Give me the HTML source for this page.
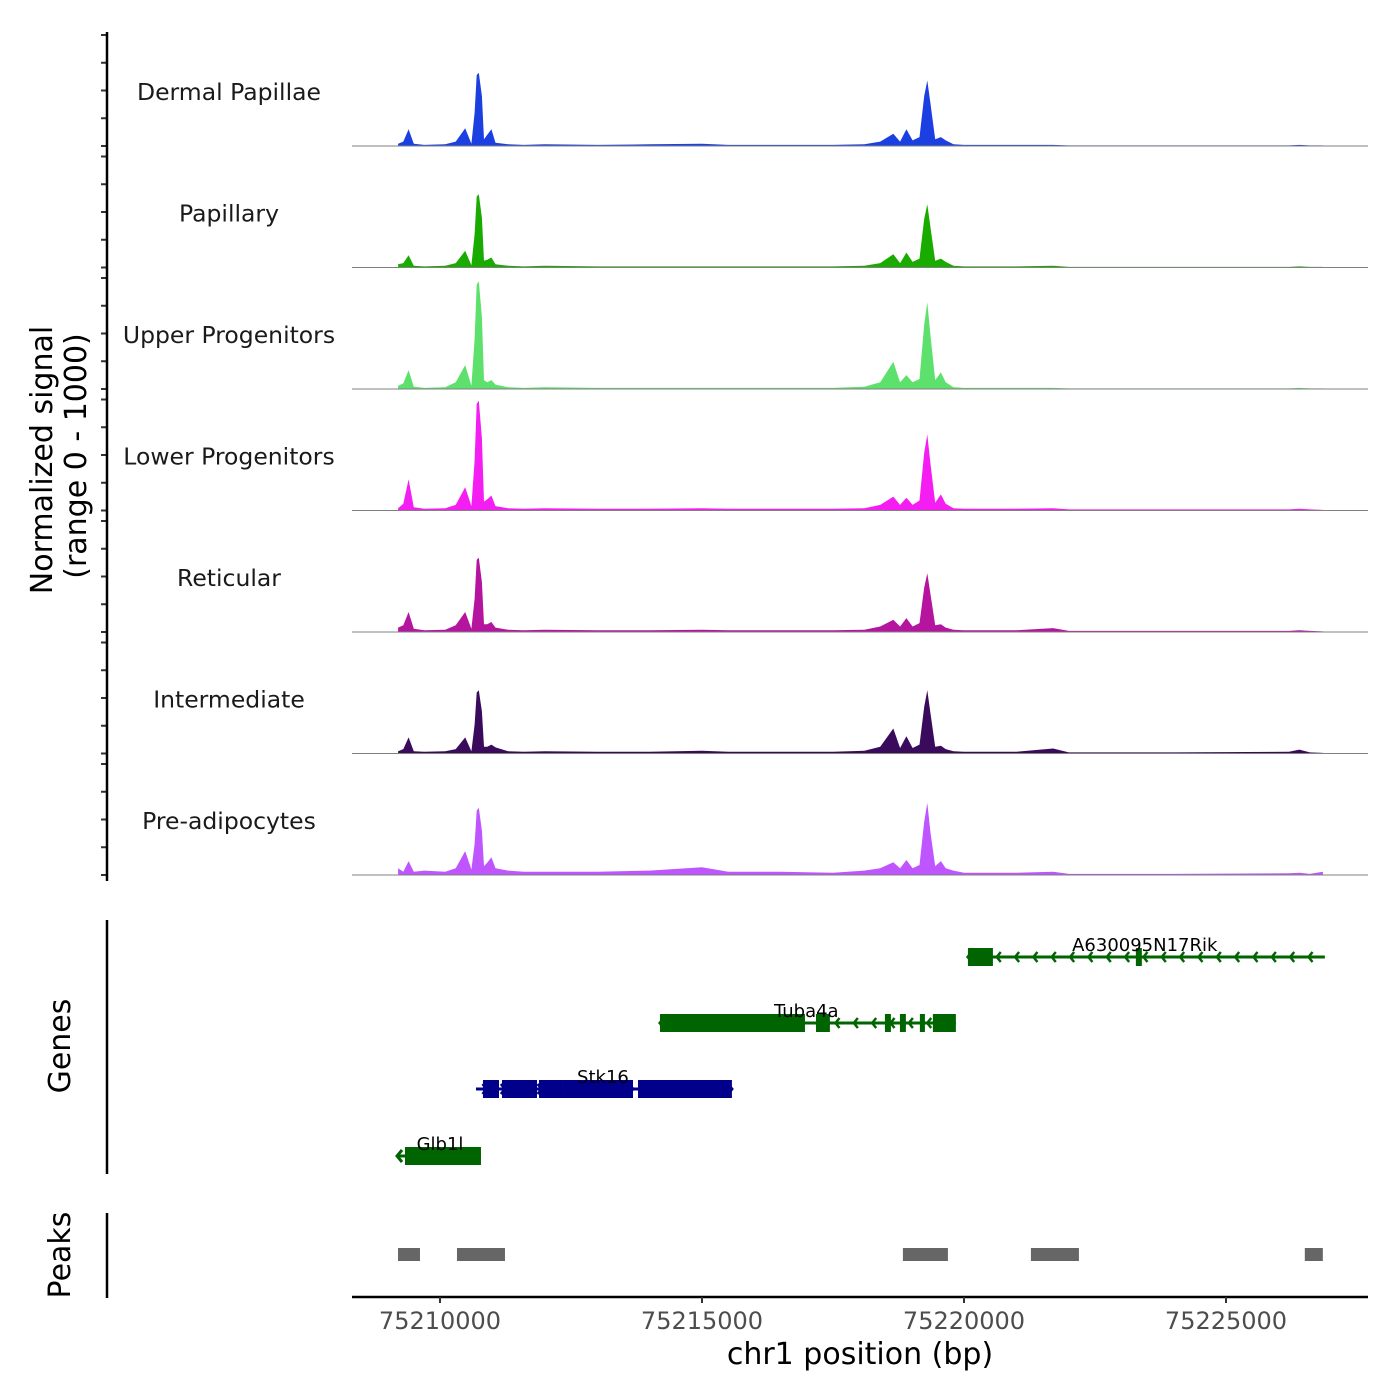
<!DOCTYPE html>
<html><head><meta charset="utf-8"><style>
html,body{margin:0;padding:0;background:#fff;}
svg{display:block;font-family:"DejaVu Sans","Liberation Sans",sans-serif;}
</style></head><body>
<svg id="chart" width="1400" height="1400" viewBox="0 0 1400 1400" xmlns="http://www.w3.org/2000/svg">
<rect width="1400" height="1400" fill="#fff"/>
<g id="tracks"></g><g id="genes"></g><g id="peaks"></g><g id="axes"></g>
</svg>
<script>
// ---- data ----
const positions = [75209200,75209300,75209400,75209500,75209700,75210100,75210300,75210480,75210600,75210660,75210700,75210740,75210800,75210840,75210900,75210980,75211060,75211300,75211600,75212000,75213000,75214000,75215000,75215500,75216500,75217500,75218100,75218400,75218650,75218780,75218900,75219020,75219150,75219240,75219300,75219360,75219450,75219560,75219650,75219800,75220000,75221000,75221700,75222000,75224000,75226200,75226400,75226600,75226850];
const trackNames = ["Dermal Papillae","Papillary","Upper Progenitors","Lower Progenitors","Reticular","Intermediate","Pre-adipocytes"];
const trackColors = ["#1b3fe0","#1aab00","#5de06c","#f51ef2","#b5149f","#3a0b5c","#bf55ff"];
const sigDP   = [20,40,150,20,10,15,40,160,20,300,640,660,450,60,100,150,30,15,10,15,10,15,20,10,10,10,15,40,110,40,150,50,80,450,590,380,60,80,50,15,10,10,10,5,5,5,10,5,5];
const sigPap  = [30,40,110,15,10,15,40,150,20,300,640,660,450,60,70,90,30,15,10,15,10,10,10,10,10,10,15,40,120,40,135,50,80,440,570,360,60,80,50,15,10,10,15,5,5,5,10,5,5];
const sigUpp  = [30,50,170,20,10,15,60,215,30,450,940,970,650,80,60,80,40,15,10,15,10,10,10,10,10,10,20,60,245,60,125,60,90,580,780,480,80,150,60,15,10,10,10,5,5,5,10,5,5];
const sigLow  = [20,60,280,30,15,20,50,210,40,450,960,990,650,80,100,135,40,20,15,20,15,15,20,15,15,15,20,50,125,50,115,50,90,520,685,420,70,145,60,20,15,15,20,10,10,10,15,10,5];
const sigRet  = [40,60,180,30,15,20,60,180,30,300,650,670,450,70,70,90,40,20,15,20,15,15,20,15,15,15,20,50,110,50,125,50,80,400,530,340,60,70,40,20,15,15,35,10,10,10,15,10,5];
const sigInt  = [20,40,145,20,15,20,40,145,20,260,550,570,380,60,60,80,55,20,15,20,15,15,25,15,15,15,25,60,225,50,155,50,80,420,570,360,60,70,40,20,15,15,45,10,10,15,35,10,5];
const sigPre  = [60,30,125,30,40,30,60,215,50,280,580,605,400,80,110,160,60,40,30,30,30,40,70,30,30,20,40,60,115,60,135,60,90,480,650,380,80,125,60,40,20,20,30,10,10,15,20,10,30];
const signals = [sigDP,sigPap,sigUpp,sigLow,sigRet,sigInt,sigPre];
const xTicks = [75210000,75215000,75220000,75225000];
const xTickLabels = ["75210000","75215000","75220000","75225000"];
const geneNames = ["A630095N17Rik","Tuba4a","Stk16","Glb1l"];
const geneStrands = ["-","-","+","-"];
const geneColors = ["#006400","#006400","#00008b","#006400"];
const geneStarts = [75220075,75214198,75210687,75209180];
const geneEnds = [75226887,75219845,75215571,75210782];
const geneLabelPos = [75223450,75216990,75213110,75210000];
const geneExons = [
  [[75220075,75220552],[75223280,75223394]],
  [[75214198,75216965],[75217175,75217441],[75218491,75218605],[75218777,75218891],[75219158,75219254],[75219406,75219845]],
  [[75210820,75211126],[75211183,75211851],[75211889,75212366],[75212366,75213683],[75213779,75215571]],
  [[75209332,75210782]]
];
const peakStarts = [75209199,75210324,75218834,75221277,75226504];
const peakEnds = [75209618,75211240,75219693,75222193,75226848];

// ---- scales ----
const X0=352,X1=1368;
const xs = bp => 440 + (bp-75210000)/1000*52.4;
const baseY = i => 146 + i*121.5;
const ys = (i,v) => baseY(i) - v/1000*111;
const NS="http://www.w3.org/2000/svg";
function mk(tag,attrs,parent){const e=document.createElementNS(NS,tag);for(const k in attrs)e.setAttribute(k,attrs[k]);parent.appendChild(e);return e;}
const tg=document.getElementById('tracks'), gg=document.getElementById('genes'), pg=document.getElementById('peaks'), ag=document.getElementById('axes');

signals.forEach((sig,i)=>{
  let d=`M${xs(positions[0])},${baseY(i)}`;
  sig.forEach((v,j)=>{d+=` L${xs(positions[j]).toFixed(1)},${ys(i,v).toFixed(1)}`;});
  d+=` L${xs(positions[positions.length-1])},${baseY(i)} Z`;
  const p=mk('path',{d:d,fill:trackColors[i]},tg);
  
  
  const bl=mk('line',{x1:X0,x2:X1,y1:baseY(i),y2:baseY(i),stroke:'#808080','stroke-width':1},tg);
  
  
  const t=mk('text',{x:229,y:baseY(i)-46,'font-size':23.5,'text-anchor':'middle',fill:'#1a1a1a'},tg);
  t.textContent=trackNames[i];
  
  
  [0,250,500,750,1000].forEach(v=>{
    const tk=mk('line',{x1:101,x2:107,y1:ys(i,v),y2:ys(i,v),stroke:'#333','stroke-width':2},ag);
    
    
  });
});

const geneRowY=[957,1023,1089,1156];
geneNames.forEach((g,i)=>{
  const y=geneRowY[i], c=geneColors[i];
  const grp=mk('g',{},gg);
  
  
  mk('line',{x1:xs(geneStarts[i]),x2:xs(geneEnds[i]),y1:y,y2:y,stroke:c,'stroke-width':3},grp);
  for(let b=geneStarts[i]+200;b<geneEnds[i]-50;b+=350){
    const x=xs(b), s=geneStrands[i]==='-'?1:-1;
    mk('polyline',{points:`${x+4*s},${y-5} ${x},${y} ${x+4*s},${y+5}`,fill:'none',stroke:c,'stroke-width':2.5},grp);
  }
  const xe=xs(geneStrands[i]==='-'?geneStarts[i]:geneEnds[i]), s=geneStrands[i]==='-'?1:-1;
  mk('polyline',{points:`${xe+5*s},${y-6} ${xe},${y} ${xe+5*s},${y+6}`,fill:'none',stroke:c,'stroke-width':3},grp);
  geneExons[i].forEach(ex=>{mk('rect',{x:xs(ex[0]),y:y-9,width:xs(ex[1])-xs(ex[0]),height:18,fill:c},grp);});
  const t=mk('text',{x:xs(geneLabelPos[i]),y:y-6,'font-size':18,'text-anchor':'middle',fill:'#000'},grp);
  t.textContent=g;
});

peakStarts.forEach((s,i)=>{
  const r=mk('rect',{x:xs(s),y:1248,width:xs(peakEnds[i])-xs(s),height:13,fill:'#666'},pg);
  
  
});

function line(a,n){const l=mk('line',a,ag);return l;}
line({x1:107,x2:107,y1:32,y2:881,stroke:'#000','stroke-width':2.5},'signal-y-axis');
line({x1:107,x2:107,y1:920,y2:1174,stroke:'#000','stroke-width':2.5},'genes-y-axis');
line({x1:107,x2:107,y1:1213,y2:1298,stroke:'#000','stroke-width':2.5},'peaks-y-axis');
line({x1:X0,x2:X1,y1:1297,y2:1297,stroke:'#000','stroke-width':2.5},'x-axis-line');
xTicks.forEach((v,i)=>{
  line({x1:xs(v),x2:xs(v),y1:1297,y2:1303,stroke:'#333','stroke-width':2},'x-tick');
  const t=mk('text',{x:xs(v),y:1329,'font-size':24,'text-anchor':'middle',fill:'#4d4d4d'},ag);
  t.textContent=xTickLabels[i];
  
  
});
function txt(a,s,n){const t=mk('text',a,ag);t.textContent=s;return t;}
txt({x:860,y:1364,'font-size':30,'text-anchor':'middle',fill:'#000'},'chr1 position (bp)','x-axis-title');
txt({x:0,y:0,'font-size':30,'text-anchor':'middle',fill:'#000',transform:'translate(52,460) rotate(-90)'},'Normalized signal','y-axis-title');
txt({x:0,y:0,'font-size':30,'text-anchor':'middle',fill:'#000',transform:'translate(86,456) rotate(-90)'},'(range 0 - 1000)','y-axis-subtitle');
txt({x:0,y:0,'font-size':30,'text-anchor':'middle',fill:'#000',transform:'translate(70,1046) rotate(-90)'},'Genes','genes-axis-title');
txt({x:0,y:0,'font-size':30,'text-anchor':'middle',fill:'#000',transform:'translate(70,1255) rotate(-90)'},'Peaks','peaks-axis-title');
</script>
</body></html>
